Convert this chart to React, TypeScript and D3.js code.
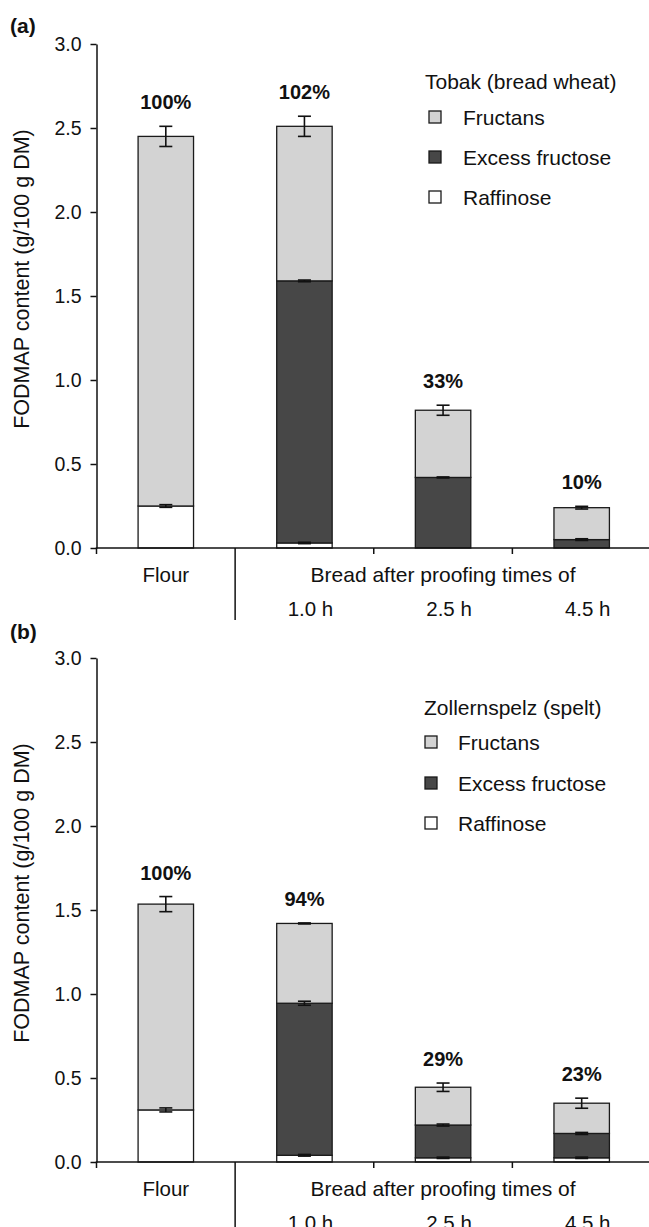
import React, { useEffect, useRef } from "react";
import * as d3 from "d3";

const categories = ["Flour", "1.0 h", "2.5 h", "4.5 h"];
const seriesKeys = ["raffinose", "excess", "fructans"];
const legendNames = ["Fructans", "Excess fructose", "Raffinose"];
const legendKeys = ["fructans", "excess", "raffinose"];
const yTicks = [0, 0.5, 1.0, 1.5, 2.0, 2.5, 3.0];
const groupLabel = "Bread after proofing times of";
const yTitle = "FODMAP content (g/100 g DM)";

// Panel (a) – Tobak (bread wheat)
const raffinoseA = [0.25, 0.03, 0, 0];
const excessA = [0, 1.56, 0.42, 0.05];
const fructansA = [2.2, 0.92, 0.4, 0.19];
const raffinoseErrA = [0.008, 0.004, 0, 0];
const excessErrA = [0, 0.005, 0.003, 0.005];
const fructansErrA = [0.06, 0.06, 0.03, 0.008];
const percentA = ["100%", "102%", "33%", "10%"];

// Panel (b) – Zollernspelz (spelt)
const raffinoseB = [0.31, 0.04, 0.025, 0.025];
const excessB = [0, 0.905, 0.195, 0.145];
const fructansB = [1.225, 0.475, 0.225, 0.18];
const raffinoseErrB = [0.012, 0.005, 0.004, 0.004];
const excessErrB = [0, 0.012, 0.006, 0.006];
const fructansErrB = [0.045, 0.003, 0.025, 0.03];
const percentB = ["100%", "94%", "29%", "23%"];

const FONT = "'Liberation Sans', Arial, Helvetica, sans-serif";
const COLORS: Record<string, string> = {
  fructans: "#d3d3d3",
  excess: "#474747",
  raffinose: "#ffffff",
};

type PanelProps = {
  top: number;
  letter: string;
  letterY: number;
  legendTitle: string;
  legendX: number;
  legendTitleY: number;
  legendSquareX: number;
  legendTextX: number;
  legendRowY: number[];
  raffinose: number[];
  excess: number[];
  fructans: number[];
  raffinoseErr: number[];
  excessErr: number[];
  fructansErr: number[];
  percent: string[];
};

const AXIS_X = 96.5;

function Panel(p: PanelProps) {
  const axRef = useRef<SVGGElement>(null);
  const y0 = p.top + 504;
  const y = d3.scaleLinear().domain([0, 3]).range([y0, p.top]);
  const x = d3.scaleBand<string>().domain(categories).range([AXIS_X, 651]).padding(0);
  const barW = x.step() * 0.4;

  const rows = categories.map((c, i) => ({
    cat: c,
    raffinose: p.raffinose[i],
    excess: p.excess[i],
    fructans: p.fructans[i],
  }));
  const errs: Record<string, number[]> = {
    raffinose: p.raffinoseErr,
    excess: p.excessErr,
    fructans: p.fructansErr,
  };
  const stack = d3.stack<any>().keys(seriesKeys)(rows);

  useEffect(() => {
    if (!axRef.current) return;
    const ax = d3
      .axisLeft(y)
      .tickValues(yTicks)
      .tickFormat(d3.format(".1f") as any)
      .tickSize(6)
      .tickSizeOuter(0)
      .tickPadding(9);
    const g = d3.select(axRef.current);
    g.call(ax as any);
    g.attr("font-family", FONT).attr("font-size", 19.5);
    g.selectAll(".tick text").attr("fill", "#111");
    g.select(".domain").attr("stroke", "#111").attr("stroke-width", 1.5);
    g.selectAll(".tick line").attr("stroke", "#111").attr("stroke-width", 1.5);
  }, [p.top]);

  const sepX = x("1.0 h")!;
  const boundaries = [AXIS_X, x("2.5 h")!, x("4.5 h")!];

  return (
    <g>
      <text x={10} y={p.letterY} fontFamily={FONT} fontWeight="bold" fontSize={21} fill="#111">
        {p.letter}
      </text>
      <text
        transform={`translate(29,${(p.top + y0) / 2 - 17}) rotate(-90)`}
        textAnchor="middle"
        fontFamily={FONT}
        fontSize={21.5}
        fill="#111"
      >
        {yTitle}
      </text>

      {stack.map((layer) =>
        layer.map((d, i) => {
          const v = d[1] - d[0];
          if (v <= 0) return null;
          const cx = x(categories[i])! + x.bandwidth() / 2;
          return (
            <rect
              key={layer.key + i}
              x={cx - barW / 2}
              y={y(d[1])}
              width={barW}
              height={y(d[0]) - y(d[1])}
              fill={COLORS[layer.key]}
              stroke="#1a1a1a"
              strokeWidth={1.3}
            />
          );
        })
      )}

      {stack.map((layer) =>
        layer.map((d, i) => {
          const e = errs[layer.key][i];
          const v = d[1] - d[0];
          if (v <= 0 || e <= 0) return null;
          const cx = x(categories[i])! + x.bandwidth() / 2;
          const t = y(d[1] + e);
          const b = y(d[1] - e);
          return (
            <g key={"e" + layer.key + i} stroke="#111" strokeWidth={1.6}>
              <line x1={cx} x2={cx} y1={t} y2={b} />
              <line x1={cx - 6.5} x2={cx + 6.5} y1={t} y2={t} />
              <line x1={cx - 6.5} x2={cx + 6.5} y1={b} y2={b} />
            </g>
          );
        })
      )}

      {categories.map((c, i) => {
        const top = stack[2][i][1];
        const e = p.fructansErr[i];
        const cx = x(c)! + x.bandwidth() / 2;
        return (
          <text
            key={"p" + i}
            x={cx}
            y={y(top + e) - 24 + 7}
            textAnchor="middle"
            fontFamily={FONT}
            fontWeight="bold"
            fontSize={20}
            fill="#111"
          >
            {p.percent[i]}
          </text>
        );
      })}

      <g ref={axRef} transform={`translate(${AXIS_X},0)`} />

      <line x1={AXIS_X - 0.75} x2={649} y1={y0} y2={y0} stroke="#111" strokeWidth={1.5} />
      {boundaries.map((bx, i) => (
        <line key={"xt" + i} x1={bx} x2={bx} y1={y0} y2={y0 + 6} stroke="#111" strokeWidth={1.5} />
      ))}
      <line x1={sepX} x2={sepX} y1={y0} y2={y0 + 72} stroke="#111" strokeWidth={1.5} />

      <text
        x={x("Flour")! + x.bandwidth() / 2}
        y={y0 + 34}
        textAnchor="middle"
        fontFamily={FONT}
        fontSize={20.5}
        fill="#111"
      >
        {categories[0]}
      </text>
      <text x={(sepX + 651) / 2} y={y0 + 34} textAnchor="middle" fontFamily={FONT} fontSize={21} fill="#111">
        {groupLabel}
      </text>
      {categories.slice(1).map((c) => (
        <text
          key={"h" + c}
          x={x(c)! + x.bandwidth() / 2 + 6}
          y={y0 + 68}
          textAnchor="middle"
          fontFamily={FONT}
          fontSize={20.5}
          fill="#111"
        >
          {c}
        </text>
      ))}

      <text x={p.legendX} y={p.legendTitleY} fontFamily={FONT} fontSize={21} fill="#111">
        {p.legendTitle}
      </text>
      {legendKeys.map((k, i) => (
        <g key={"l" + k}>
          <rect
            x={p.legendSquareX}
            y={p.legendRowY[i] - 6}
            width={12}
            height={12}
            fill={COLORS[k]}
            stroke="#1a1a1a"
            strokeWidth={1.3}
          />
          <text x={p.legendTextX} y={p.legendRowY[i] + 7.5} fontFamily={FONT} fontSize={21} fill="#111">
            {legendNames[i]}
          </text>
        </g>
      ))}
    </g>
  );
}

export default function App() {
  return (
    <svg
      width={649}
      height={1227}
      viewBox="0 0 649 1227"
      style={{ position: "absolute", left: 0, top: 0, background: "#fff" }}
    >
      <rect x={0} y={0} width={649} height={1227} fill="#fff" />
      <Panel
        top={44}
        letter="(a)"
        letterY={33}
        legendTitle="Tobak (bread wheat)"
        legendX={425}
        legendTitleY={89}
        legendSquareX={429}
        legendTextX={463}
        legendRowY={[117, 157, 197]}
        raffinose={raffinoseA}
        excess={excessA}
        fructans={fructansA}
        raffinoseErr={raffinoseErrA}
        excessErr={excessErrA}
        fructansErr={fructansErrA}
        percent={percentA}
      />
      <Panel
        top={658}
        letter="(b)"
        letterY={639}
        legendTitle="Zollernspelz (spelt)"
        legendX={424}
        legendTitleY={715}
        legendSquareX={425}
        legendTextX={458}
        legendRowY={[742, 783, 823]}
        raffinose={raffinoseB}
        excess={excessB}
        fructans={fructansB}
        raffinoseErr={raffinoseErrB}
        excessErr={excessErrB}
        fructansErr={fructansErrB}
        percent={percentB}
      />
    </svg>
  );
}
